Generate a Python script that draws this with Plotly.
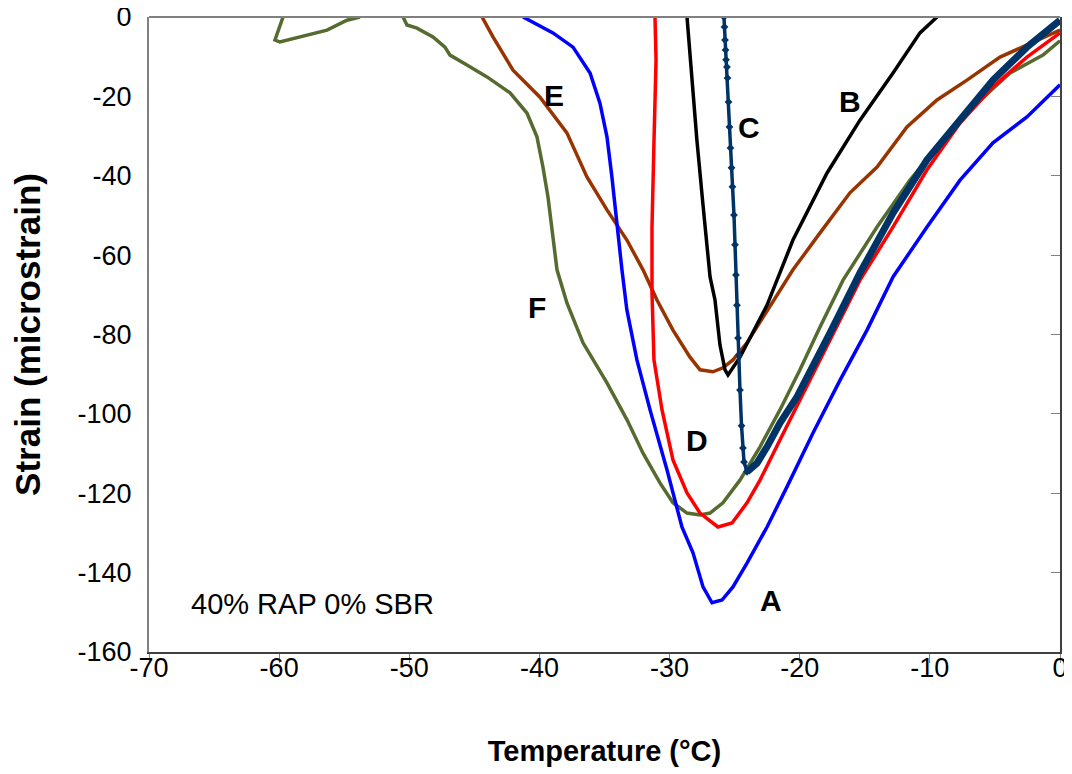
import plotly.graph_objects as go

# ---- data (temperature °C, strain microstrain) ----
a_x = [-41.26, -38.96, -37.42, -36.11, -35.35, -34.81, -34.43, -34.04, -33.66, -33.28, -32.51, -31.50, -30.20, -29.05,
       -28.20, -27.43, -26.74, -25.97, -25.13, -24.05, -22.51, -20.98, -18.98, -16.90, -14.83, -12.83, -10.22, -7.68,
       -5.15, -2.54, 0.0]
a_y = [0, -4.0, -7.6, -14.1, -21.7, -30.2, -40.3, -52.9, -63.7, -73.8, -86.4, -99.0, -114.1, -128.5,
       -135.0, -143.6, -147.6, -146.9, -143.6, -137.6, -128.5, -118.4, -104.8, -91.5, -78.9, -65.5, -52.9, -41.1,
       -31.7, -25.2, -17.1]

b_x = [-28.66, -28.28, -27.90, -27.43, -26.89, -26.51, -26.13, -25.74, -25.51, -24.59, -23.59, -22.51, -20.52,
       -17.90, -15.37, -12.83, -10.76, -9.45]
b_y = [0, -15.9, -31.0, -47.4, -65.5, -71.3, -82.6, -88.9, -90.2, -85.7, -79.6, -72.6, -56.2,
       -39.3, -26.0, -14.1, -4.0, 0]

c1_x = [-25.82, -25.78, -25.74, -25.70, -25.66, -25.59, -25.55, -25.47, -25.40, -25.32, -25.24, -25.17, -25.05,
        -24.97, -24.90, -24.82, -24.74, -24.67, -24.59, -24.47, -24.36, -24.28, -24.05]
c1_y = [0, -2.5, -5.8, -8.3, -10.8, -12.6, -15.4, -21.4, -27.7, -33.0, -38.0, -42.8, -49.9,
        -57.4, -65.0, -72.6, -80.9, -85.2, -94.0, -103.0, -108.6, -112.1, -114.6]
c2_x = [-24.05, -23.28, -22.51, -21.52, -20.21, -18.98, -17.67, -15.37, -12.83, -10.22, -7.68, -5.15, -2.54, 0.0]
c2_y = [-114.6, -112.4, -108.3, -102.3, -95.7, -88.2, -79.6, -64.5, -49.4, -36.0, -26.0, -15.9, -7.6, -0.8]

d_x = [-31.12, -31.04, -31.20, -31.35, -31.35, -31.20, -30.58, -29.74, -28.66, -27.66, -26.28, -25.20, -24.05,
       -23.05, -21.52, -19.98, -18.44, -16.90, -15.37, -12.83, -10.22, -7.68, -5.15, -2.54, 0.0]
d_y = [0, -10.8, -31.7, -52.9, -69.5, -86.4, -99.0, -111.6, -119.9, -125.0, -128.5, -127.5, -122.4,
       -116.7, -106.6, -96.5, -86.4, -76.3, -66.3, -52.9, -38.5, -26.7, -17.6, -10.1, -4.0]

e_x = [-44.41, -43.57, -42.03, -39.96, -37.89, -36.35, -34.81, -33.28, -32.04, -30.97, -29.74, -28.43, -27.66,
       -26.67, -25.90, -25.13, -24.05, -22.82, -20.52, -18.44, -16.14, -14.06, -11.76, -9.45, -7.15, -4.61,
       -2.07, 0.0]
e_y = [0, -5.0, -13.4, -20.2, -29.2, -40.3, -48.6, -56.2, -63.7, -71.3, -78.9, -85.7, -88.9,
       -89.4, -88.4, -86.4, -82.1, -75.8, -63.7, -54.4, -44.3, -37.8, -27.7, -20.9, -15.9, -10.1,
       -6.3, -3.3]

f_x = [-59.70, -60.32, -59.94, -58.40, -56.32, -54.79, -53.79, None,
       -50.48, -50.18, -49.41, -48.18, -47.26, -46.87, -45.57, -44.03, -42.26, -40.96, -40.19, -39.73, -39.34,
       -39.03, -38.65, -37.88, -36.65, -34.81, -33.27, -32.04, -30.74, -29.74, -28.66, -27.66, -26.89, -25.90,
       -24.59, -23.05, -21.52, -19.98, -18.44, -16.67, -14.06, -11.53, -8.99, -6.38, -3.84, -1.31, 0.0]
f_y = [0, -5.8, -6.3, -5.0, -3.3, -0.8, 0, None,
       0, -2.0, -2.8, -5.0, -7.6, -9.6, -12.1, -15.1, -19.1, -24.2, -30.2, -37.8, -45.4,
       -52.9, -63.7, -72.1, -82.1, -92.2, -101.5, -109.9, -117.4, -122.4, -125.0, -125.5, -125.0, -122.4,
       -116.7, -108.3, -99.0, -88.9, -78.1, -66.3, -52.9, -41.1, -31.0, -21.7, -14.1, -9.6, -6.0]

curve_labels = ["A", "B", "C", "D", "E", "F"]
label_x = [-22.2, -16.1, -23.9, -27.9, -38.9, -40.2]
label_y = [-146.9, -21.4, -27.9, -106.6, -19.9, -73.1]

x_ticks = [-70, -60, -50, -40, -30, -20, -10, 0]
y_ticks = [-160, -140, -120, -100, -80, -60, -40, -20, 0]

FONT = "Liberation Sans, Arial, sans-serif"

fig = go.Figure()

def line(x, y, color, width, mode="lines", marker=None):
    fig.add_trace(go.Scatter(x=x, y=y, mode=mode, line=dict(color=color, width=width),
                             marker=marker, showlegend=False, hoverinfo="skip", connectgaps=False))

line(f_x, f_y, "#556B2F", 3.5)
line(e_x, e_y, "#993300", 3.5)
line(a_x, a_y, "#0000FF", 3.5)
line(d_x, d_y, "#FF0000", 3.5)
line(b_x, b_y, "#000000", 3.5)
line(c1_x, c1_y, "#003366", 3.5, mode="lines+markers", marker=dict(size=6, color="#003366", symbol="diamond"))
line(c2_x, c2_y, "#003366", 7)

# dummy trace to show right axis
fig.add_trace(go.Scatter(x=[None], y=[None], yaxis="y2", showlegend=False, hoverinfo="skip"))

for t, lx, ly in zip(curve_labels, label_x, label_y):
    fig.add_annotation(x=lx, y=ly, text="<b>%s</b>" % t, showarrow=False,
                       font=dict(family=FONT, size=30, color="black"))

fig.add_annotation(x=-57.4, y=-147.9, text="40% RAP 0% SBR", showarrow=False,
                   font=dict(family=FONT, size=29, color="black"))

# top border (gray)
fig.add_shape(type="line", xref="paper", yref="paper", x0=0, x1=1, y0=1, y1=1,
              line=dict(color="#808080", width=2))

fig.update_layout(
    width=1064, height=766,
    margin=dict(l=141, r=12, t=9, b=122),
    paper_bgcolor="white", plot_bgcolor="white",
    font=dict(family=FONT, size=27, color="black"),
    xaxis=dict(range=[-70, 0], tickvals=x_ticks, ticktext=[str(v) for v in x_ticks],
               automargin=False, ticklabeloverflow="allow",
               showgrid=False, zeroline=False, showline=True, linecolor="#404040", linewidth=2,
               ticks="outside", ticklen=9, tickcolor="#808080", tickwidth=1, ticklabelstandoff=-18,
               title=dict(text="<b>Temperature (°C)</b>", font=dict(size=29), standoff=58)),
    yaxis=dict(range=[-160, 0], tickvals=y_ticks, ticktext=[str(v) for v in y_ticks],
               automargin=False, ticklabeloverflow="allow",
               showgrid=False, zeroline=False, showline=True, linecolor="#808080", linewidth=2,
               ticks="", ticklabelstandoff=10,
               title=dict(text="<b>Strain (microstrain)</b>", font=dict(size=35), standoff=37)),
    yaxis2=dict(range=[-160, 0], overlaying="y", side="right", tickvals=y_ticks,
                automargin=False,
                showticklabels=False, showgrid=False, zeroline=False, showline=True,
                linecolor="#404040", linewidth=2, ticks="inside", ticklen=9, tickcolor="#808080"),
)

fig.write_html("out.html")
